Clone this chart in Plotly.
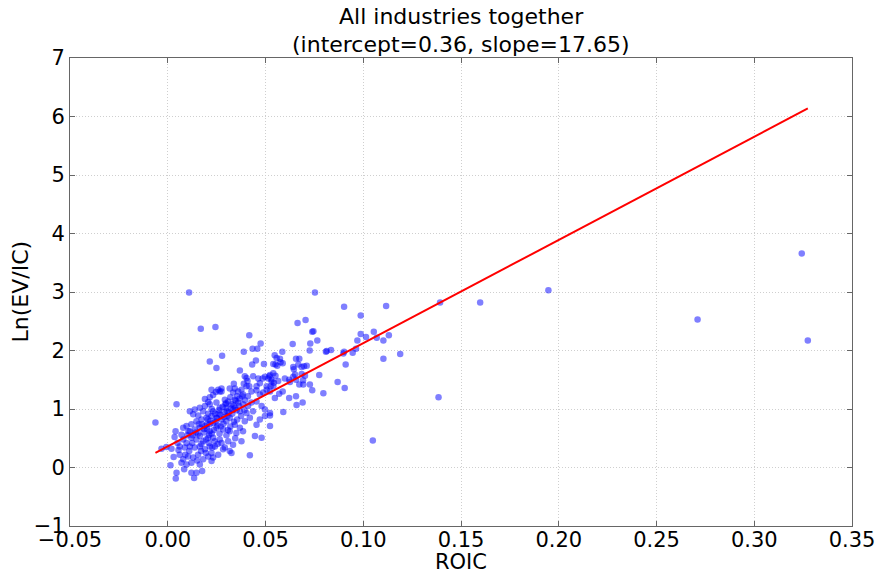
import plotly.graph_objects as go

# ROIC vs Ln(EV/IC) for companies across all industries
roic = [
    0.0109, 0.0169, 0.0244, 0.0417, 0.0475, 0.0458, 0.0434, 0.0389, 0.0278, 0.0215,
    0.0249, 0.0045, -0.0063, 0.0753, 0.0902, 0.1117, 0.0987, 0.0664, 0.0705, 0.0739,
    0.0745, 0.0765, 0.0729, 0.0726, 0.0639, 0.0586, 0.0547, 0.0557, 0.0574, 0.0588,
    0.0577, 0.0551, 0.0560, 0.0656, 0.0673, 0.0668, 0.0642, 0.0645, 0.0685, 0.0697,
    0.0711, 0.0540, 0.0523, 0.0551, 0.0531, 0.0543, 0.0565, 0.0526, 0.0599, 0.0621,
    0.0656, 0.0642, 0.0651, 0.0685, 0.0692, 0.0673, 0.0693, 0.0727, 0.0775, 0.0702,
    0.0625, 0.0835, 0.0809, 0.0813, 0.0902, 0.0898, 0.0970, 0.0987, 0.1014, 0.1054,
    0.1069, 0.1103, 0.1131, 0.0963, 0.0946, 0.0910, 0.1103, 0.1189, 0.0869, 0.0905,
    0.0796, 0.0739, 0.0656, 0.0659, 0.0690, 0.0621, 0.0591, 0.0548, 0.0570, 0.0588,
    0.0523, 0.0523, 0.1049, 0.1385, 0.1393, 0.1598, 0.1947, 0.2710, 0.3243, 0.3274,
    0.0451, 0.0432, 0.0492, 0.0540, 0.0369, 0.0394, 0.0403, 0.0408, 0.0403, 0.0389,
    0.0417, 0.0437, 0.0463, 0.0485, 0.0497, 0.0514, 0.0531, 0.0519, 0.0471, 0.0454,
    0.0506, 0.0540, 0.0275, 0.0317, 0.0343, 0.0224, 0.0338, 0.0266, 0.0246,
    0.0258, 0.0275, 0.0334, 0.0360, 0.0377, 0.0385, 0.0428, 0.0454, 0.0471, 0.0488,
    0.0506, 0.0523, 0.0215, 0.0249, 0.0292, 0.0309, 0.0326, 0.0343, 0.0360, 0.0385,
    0.0411, 0.0428, 0.0454, 0.0480, 0.0497, 0.0523, 0.0437, 0.0403, 0.0369, 0.0334,
    0.0300, 0.0266, 0.0232, 0.0224, 0.0249, 0.0275, 0.0300, 0.0317, 0.0343, 0.0369,
    0.0394, 0.0420, 0.0454, 0.0471, 0.0497, 0.0385, 0.0351, 0.0317, 0.0283, 0.0249,
    0.0215, 0.0232, 0.0232, 0.0266, 0.0309, 0.0334, 0.0377, 0.0446, 0.0480, 0.0241,
    0.0292, 0.0317, 0.0224, 0.0258, 0.0283, 0.0326, 0.0420,
    0.0130, 0.0156, 0.0181, 0.0207, 0.0198, 0.0173, 0.0147, 0.0121, 0.0096, 0.0079,
    0.0113, 0.0138, 0.0164, 0.0190, 0.0215, 0.0245, 0.0070, 0.0079, 0.0096, 0.0121,
    0.0147, 0.0164, 0.0181, 0.0207, 0.0061, 0.0087, 0.0113, 0.0138, 0.0164, 0.0190,
    0.0215, 0.0061, 0.0079, 0.0104, 0.0130, 0.0155, 0.0181, 0.0207, 0.0232, 0.0070,
    0.0096, 0.0121, 0.0164, 0.0224, 0.0014, 0.0045, 0.0041, 0.0084, 0.0121, 0.0147,
    0.0176, 0.0135, -0.0032, -0.0007, 0.0019,
    0.0138, 0.0164, 0.0190, 0.0207, 0.0215, 0.0232, 0.0190, 0.0113,
    0.0185, 0.0200, 0.0225, 0.0255, 0.0270, 0.0290, 0.0305, 0.0330, 0.0345, 0.0285,
    0.0265, 0.0240, 0.0210, 0.0195, 0.0170, 0.0150, 0.0110, 0.0100, 0.0090, 0.0125,
    0.0155, 0.0175, 0.0205, 0.0225, 0.0260, 0.0295, 0.0320, 0.0355, 0.0365, 0.0395,
    0.0410, 0.0375, 0.0355, 0.0320, 0.0300, 0.0275, 0.0255, 0.0345, 0.0050, 0.0030,
    0.0055, 0.0035, 0.0040,
    0.0262, 0.0281, 0.0298, 0.0312, 0.0336, 0.0352, 0.0368, 0.0288, 0.0302, 0.0322,
    0.0242, 0.0218, 0.0202, 0.0186, 0.0252, 0.0271, 0.0348, 0.0381, 0.0236, 0.0212,
    0.0158, 0.0143, 0.0128, 0.0106, 0.0172, 0.0196, 0.0228, 0.0308, 0.0338, 0.0392,
]
ln_ev_ic = [
    2.99, 2.37, 2.40, 2.26, 2.12, 2.03, 2.03, 1.98, 1.91, 1.81,
    1.70, 1.08, 0.77, 2.99, 2.75, 2.76, 2.60, 2.47, 2.52, 2.32,
    2.33, 2.17, 2.12, 2.00, 2.11, 1.98, 1.92, 1.87, 1.86, 1.78,
    1.80, 1.76, 1.74, 1.86, 1.86, 1.76, 1.72, 1.68, 1.72, 1.73,
    1.74, 1.61, 1.58, 1.57, 1.50, 1.45, 1.48, 1.39, 1.52, 1.50,
    1.50, 1.55, 1.59, 1.60, 1.49, 1.42, 1.42, 1.42, 1.58, 1.57,
    1.46, 2.01, 1.98, 1.99, 1.98, 1.95, 2.17, 2.28, 2.23, 2.32,
    2.22, 2.17, 2.26, 2.03, 1.96, 1.76, 1.86, 1.94, 1.46, 1.36,
    1.27, 1.32, 1.22, 1.07, 1.11, 1.19, 0.95, 1.19, 1.26, 1.30,
    0.89, 0.71, 0.46, 1.20, 2.82, 2.82, 3.03, 2.53, 3.66, 2.17,
    1.83, 1.76, 1.77, 1.77, 1.66, 1.56, 1.53, 1.48, 1.39, 1.43,
    1.39, 1.56, 1.52, 1.52, 1.55, 1.52, 1.47, 1.56, 1.44, 1.39,
    1.39, 1.39, 1.35, 1.35, 1.35, 1.33, 1.43, 1.30, 1.29,
    1.33, 1.30, 1.28, 1.30, 1.33, 1.25, 1.30, 1.32, 1.25, 1.28,
    1.33, 1.30, 1.08, 1.11, 1.16, 1.13, 1.08, 1.16, 1.11, 1.08,
    1.05, 1.11, 1.13, 1.05, 0.99, 0.93, 0.96, 0.93, 0.96, 0.99,
    1.02, 1.02, 0.96, 0.88, 0.85, 0.82, 0.79, 0.85, 0.73, 0.68,
    0.79, 0.85, 0.73, 0.82, 0.88, 0.62, 0.59, 0.62, 0.65, 0.68,
    0.62, 0.76, 0.51, 0.48, 0.45, 0.39, 0.45, 0.54, 0.51, 0.36,
    0.34, 0.28, 0.25, 0.22, 0.31, 0.25, 0.21,
    0.91, 0.89, 0.96, 0.92, 0.85, 0.82, 0.79, 0.74, 0.71, 0.68,
    0.62, 0.65, 0.68, 0.71, 0.74, 0.78, 0.56, 0.48, 0.42, 0.51,
    0.48, 0.54, 0.45, 0.51, 0.36, 0.34, 0.36, 0.34, 0.36, 0.31,
    0.36, 0.22, 0.14, 0.19, 0.17, 0.22, 0.14, 0.19, 0.17, 0.08,
    0.05, 0.08, 0.05, 0.11, 0.04, -0.09, -0.19, -0.03, -0.09, -0.09,
    -0.06, -0.18, 0.32, 0.35, 0.32,
    0.99, 1.02, 1.05, 1.12, 1.20, 1.24, 1.17, 0.96,
    0.60, 0.66, 0.58, 0.72, 0.90, 0.95, 0.88, 0.92, 1.02, 0.75,
    0.58, 0.45, 0.42, 0.25, 0.28, 0.12, 0.28, 0.55, 0.22, 0.42,
    0.58, 0.74, 0.82, 1.00, 0.92, 1.08, 1.20, 1.22, 1.05, 1.15,
    1.22, 0.88, 0.82, 0.70, 0.55, 0.42, 0.40, 0.50, 0.42, 0.18,
    0.30, 0.52, 0.62,
    0.98, 1.04, 1.10, 0.94, 1.06, 0.98, 1.18, 0.86, 0.96, 1.01,
    0.92, 0.80, 0.74, 0.66, 0.84, 0.70, 1.14, 1.22, 0.64, 0.56,
    0.74, 0.60, 0.55, 0.62, 0.40, 0.48, 0.34, 0.64, 0.78, 0.98,
]

intercept = 0.36
slope = 17.65

title_lines = ["All industries together",
               "(intercept=%.2f, slope=%.2f)" % (intercept, slope)]

x_ticks = [-0.05, 0.00, 0.05, 0.10, 0.15, 0.20, 0.25, 0.30, 0.35]
y_ticks = [-1, 0, 1, 2, 3, 4, 5, 6, 7]


def fmt(v, digits):
    s = f"{v:.{digits}f}"
    return s.replace("-", "\u2212")


x_line = [min(roic), max(roic)]
y_line = [intercept + slope * v for v in x_line]

fig = go.Figure()
fig.add_trace(go.Scatter(
    x=roic, y=ln_ev_ic, mode="markers",
    marker=dict(size=6.5, color="rgba(0,0,255,0.5)", line=dict(width=0)),
    showlegend=False,
))
fig.add_trace(go.Scatter(
    x=x_line, y=y_line, mode="lines",
    line=dict(color="#ff0000", width=2),
    showlegend=False,
))

font_family = "DejaVu Sans"
axis_common = dict(
    showline=True, linecolor="#666666", linewidth=1, mirror="ticks",
    ticks="inside", ticklen=5, tickcolor="#666666",
    showgrid=True, gridcolor="#cfcfcf", griddash="1px,2px", gridwidth=1,
    zeroline=False, automargin=False,
    tickfont=dict(family=font_family, size=21, color="#000000"),
)

fig.update_layout(
    width=877, height=574,
    margin=dict(l=70, r=25, t=58, b=48),
    paper_bgcolor="white", plot_bgcolor="white",
    font=dict(family=font_family, color="#000000"),
    xaxis=dict(
        range=[-0.05, 0.35],
        tickvals=x_ticks, ticktext=[fmt(v, 2) for v in x_ticks],
        ticklabelstandoff=-5,
        **axis_common,
    ),
    yaxis=dict(
        range=[-1, 7],
        tickvals=y_ticks, ticktext=[fmt(v, 0) for v in y_ticks],
        **axis_common,
    ),
)

# two-line title above the plot area
for text, shift in zip(title_lines, [27, -1]):
    fig.add_annotation(
        text=text, xref="paper", yref="paper", x=0.5, y=1,
        xanchor="center", yanchor="bottom", yshift=shift, showarrow=False,
        font=dict(family=font_family, size=22, color="#000000"),
    )

# axis titles
fig.add_annotation(
    text="ROIC", xref="paper", yref="paper", x=0.5, y=0,
    xanchor="center", yanchor="top", yshift=-22, showarrow=False,
    font=dict(family=font_family, size=21, color="#000000"),
)
fig.add_annotation(
    text="Ln(EV/IC)", xref="paper", yref="paper", x=0, y=0.5,
    xanchor="right", yanchor="middle", xshift=-36, textangle=-90, showarrow=False,
    font=dict(family=font_family, size=22, color="#000000"),
)

fig.write_html("out.html")
